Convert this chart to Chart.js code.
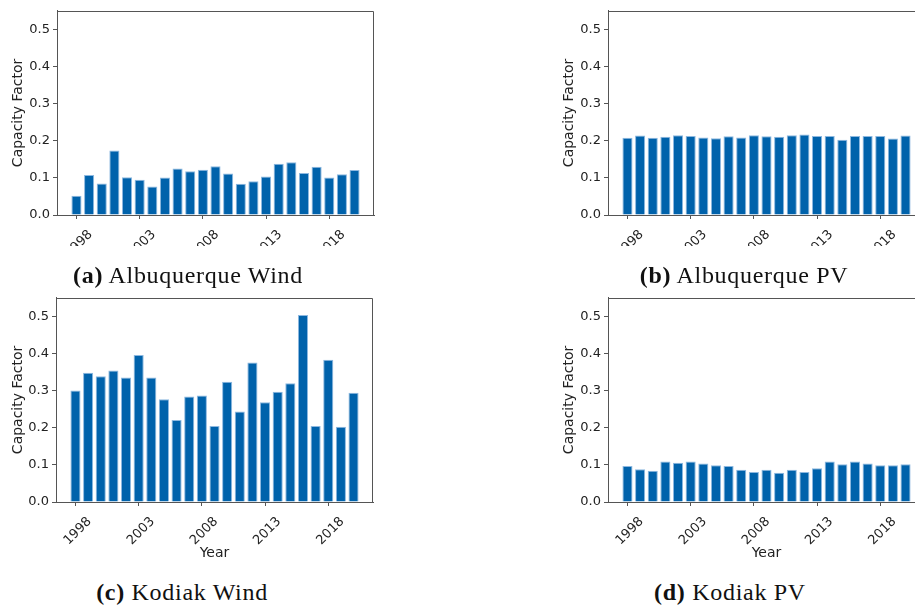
<!DOCTYPE html>
<html>
<head>
<meta charset="utf-8">
<script src="https://cdn.jsdelivr.net/npm/chart.js@4.4.0/dist/chart.umd.min.js"></script>
<style>
  html, body { margin: 0; padding: 0; background: #fff; }
  #page { position: relative; width: 915px; height: 605px; overflow: hidden; background: #fff; }
  .panel { position: absolute; }
  .cap {
    position: absolute; transform: translateX(-50%);
    font-family: "Liberation Serif", serif; font-size: 24px; line-height: 1;
    color: #111; white-space: nowrap; letter-spacing: 0.7px;
  }
</style>
</head>
<body>
<div id="page">
  <canvas class="panel" id="cA" width="380" height="246" style="left:0;top:0"></canvas>
  <canvas class="panel" id="cB" width="390" height="246" style="left:540px;top:0"></canvas>
  <canvas class="panel" id="cC" width="380" height="280" style="left:0;top:287px"></canvas>
  <canvas class="panel" id="cD" width="390" height="280" style="left:540px;top:287px"></canvas>

  <div class="cap" style="left:188px;top:263px"><b>(a)</b> Albuquerque Wind</div>
  <div class="cap" style="left:744px;top:263px"><b>(b)</b> Albuquerque PV</div>
  <div class="cap" style="left:182px;top:580px"><b>(c)</b> Kodiak Wind</div>
  <div class="cap" style="left:730px;top:580px"><b>(d)</b> Kodiak PV</div>
</div>

<script>
// Years on the x axis
const YEARS = [1998, 1999, 2000, 2001, 2002, 2003, 2004, 2005, 2006, 2007, 2008, 2009,
               2010, 2011, 2012, 2013, 2014, 2015, 2016, 2017, 2018, 2019, 2020];
const X_TICKS = [1998, 2003, 2008, 2013, 2018];
const X_MIN = 1996.46, X_MAX = 2021.54;   // matplotlib's 5% margins around the bars
const Y_MAX = 0.55;

// Capacity factors
const ABQ_WIND = [0.052, 0.108, 0.085, 0.174, 0.102, 0.095, 0.077, 0.101, 0.125, 0.118, 0.122, 0.131,
                  0.112, 0.084, 0.091, 0.104, 0.138, 0.142, 0.113, 0.130, 0.101, 0.110, 0.121];
const ABQ_PV   = [0.208, 0.214, 0.208, 0.211, 0.215, 0.213, 0.209, 0.207, 0.212, 0.209, 0.215, 0.212,
                  0.211, 0.215, 0.217, 0.213, 0.213, 0.203, 0.213, 0.213, 0.213, 0.206, 0.214];
const KOD_WIND = [0.300, 0.348, 0.339, 0.354, 0.335, 0.396, 0.335, 0.277, 0.221, 0.284, 0.287, 0.205,
                  0.324, 0.244, 0.376, 0.269, 0.297, 0.320, 0.504, 0.205, 0.383, 0.203, 0.294];
const KOD_PV   = [0.097, 0.088, 0.084, 0.109, 0.106, 0.109, 0.104, 0.099, 0.097, 0.087, 0.081, 0.087,
                  0.079, 0.087, 0.081, 0.091, 0.109, 0.102, 0.109, 0.104, 0.099, 0.099, 0.102];

// Styles
const BAR = '#0062ab';
const EDGE = '#8db8e0';
const AX = '#555';
const TXT = '#222';
const FONT = "'DejaVu Sans', sans-serif";

// draws the top and right spines
const frame = {
  id: 'frame',
  afterDraw(chart) {
    const { ctx, chartArea: a } = chart;
    ctx.save();
    ctx.strokeStyle = AX;
    ctx.lineWidth = 1;
    ctx.beginPath();
    ctx.moveTo(Math.round(a.left) + 0.5, Math.round(a.top) + 0.5);
    ctx.lineTo(Math.round(a.right) - 0.5, Math.round(a.top) + 0.5);
    ctx.lineTo(Math.round(a.right) - 0.5, Math.round(a.bottom));
    ctx.stroke();
    ctx.restore();
  }
};

function panel(id, values, o) {
  return new Chart(document.getElementById(id), {
    type: 'bar',
    data: {
      datasets: [{
        data: YEARS.map((y, i) => ({ x: y, y: values[i] })),
        backgroundColor: BAR,
        borderColor: EDGE,
        borderWidth: 1,
        categoryPercentage: 0.8,
        barPercentage: 1
      }]
    },
    options: {
      responsive: false,
      animation: false,
      layout: { padding: { top: 9, right: o.padRight, left: 0, bottom: 0 } },
      plugins: { legend: { display: false }, tooltip: { enabled: false } },
      scales: {
        x: {
          type: 'linear', min: X_MIN, max: X_MAX, offset: false,
          afterBuildTicks: ax => { ax.ticks = X_TICKS.map(v => ({ value: v })); },
          afterFit: ax => { ax.height = o.xHeight; },
          ticks: {
            autoSkip: false, minRotation: 45, maxRotation: 45,
            labelOffset: 14, padding: 8, color: TXT,
            font: { family: FONT, size: 13 },
            callback: v => String(v)
          },
          grid: { drawOnChartArea: false, drawTicks: true, tickLength: 4, color: AX, offset: false },
          border: { display: true, color: AX, width: 1 },
          title: {
            display: o.year, text: 'Year', color: TXT,
            font: { family: FONT, size: 14 }, padding: { top: 0, bottom: 5 }
          }
        },
        y: {
          min: 0, max: Y_MAX,
          afterFit: ax => { ax.width = o.yWidth; },
          ticks: {
            stepSize: 0.1, includeBounds: false, padding: 3, color: TXT,
            font: { family: FONT, size: 13 },
            callback: v => v.toFixed(1)
          },
          grid: { drawOnChartArea: false, drawTicks: true, tickLength: 4, color: AX },
          border: { display: true, color: AX, width: 1 },
          title: {
            display: true, text: 'Capacity Factor', color: TXT,
            font: { family: FONT, size: 14 }, padding: { top: o.yPad, bottom: 0 }
          }
        }
      }
    },
    plugins: [frame]
  });
}

panel('cA', ABQ_WIND, { padRight: 6, xHeight: 31, yWidth: 57, yPad: 10, year: false });
panel('cB', ABQ_PV,   { padRight: 5, xHeight: 31, yWidth: 68, yPad: 21, year: false });
panel('cC', KOD_WIND, { padRight: 7, xHeight: 65, yWidth: 56, yPad: 10, year: true });
panel('cD', KOD_PV,   { padRight: 5, xHeight: 65, yWidth: 68, yPad: 21, year: true });
</script>
</body>
</html>
